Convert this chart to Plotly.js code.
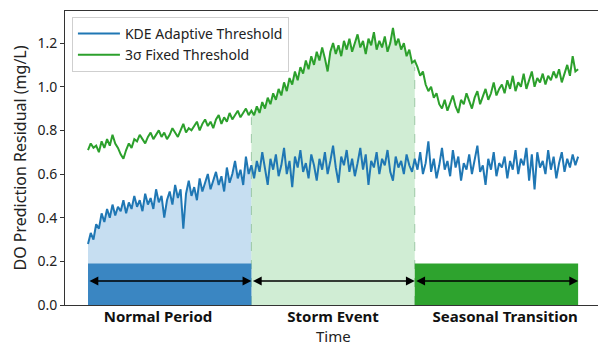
<!DOCTYPE html>
<html>
<head>
<meta charset="utf-8">
<script src="https://cdn.plot.ly/plotly-3.0.1.min.js"></script>
<style>html,body{margin:0;padding:0;background:#fff;}#chart{width:598px;height:345px;}</style>
</head>
<body>
<div id="chart"></div>
<script>
// Period names and boundaries (time index)
const periods = ['Normal Period', 'Storm Event', 'Seasonal Transition'];
const periodBounds = [0, 60, 120, 180];
const periodLabelAt = [25.7, 90, 153.2];

// KDE Adaptive Threshold (mg/L), one value per time step
const kdeNormal = [0.28,0.33,0.30,0.37,0.35,0.42,0.38,0.44,0.40,0.46,
  0.41,0.45,0.43,0.48,0.42,0.47,0.44,0.50,0.45,0.48,
  0.43,0.51,0.46,0.49,0.44,0.53,0.47,0.50,0.40,0.48,
  0.52,0.46,0.55,0.49,0.53,0.35,0.51,0.57,0.50,0.54,
  0.48,0.58,0.52,0.56,0.60,0.53,0.57,0.61,0.55,0.59,
  0.52,0.63,0.56,0.60,0.66,0.58,0.62,0.55,0.68,0.60,
  0.64];
const kdeStorm = [0.58,0.66,0.61,0.70,0.63,0.55,0.67,0.62,0.69,0.59,
  0.64,0.72,0.60,0.66,0.54,0.68,0.63,0.71,0.61,0.65,
  0.58,0.69,0.64,0.57,0.67,0.62,0.70,0.60,0.66,0.73,
  0.63,0.56,0.68,0.64,0.71,0.61,0.67,0.59,0.65,0.72,
  0.62,0.69,0.55,0.66,0.63,0.70,0.60,0.67,0.64,0.71,
  0.61,0.57,0.68,0.63,0.66,0.60,0.69,0.64,0.61,0.67];
const kdeSeasonal = [0.62,0.70,0.60,0.65,0.75,0.61,0.67,0.58,0.64,0.72,
  0.62,0.66,0.59,0.71,0.63,0.68,0.57,0.65,0.62,0.69,
  0.60,0.66,0.73,0.61,0.64,0.55,0.67,0.62,0.70,0.59,
  0.65,0.63,0.68,0.58,0.66,0.62,0.71,0.60,0.67,0.64,
  0.72,0.57,0.69,0.53,0.70,0.63,0.66,0.60,0.71,0.62,
  0.68,0.58,0.65,0.70,0.61,0.67,0.63,0.69,0.64,0.68];

// 3-sigma Fixed Threshold (mg/L)
const sigNormal = [0.71,0.74,0.72,0.73,0.70,0.75,0.72,0.76,0.73,0.78,
  0.74,0.72,0.69,0.67,0.71,0.74,0.72,0.76,0.75,0.78,
  0.76,0.74,0.77,0.79,0.76,0.78,0.80,0.77,0.79,0.76,
  0.78,0.81,0.79,0.77,0.80,0.83,0.79,0.81,0.80,0.82,
  0.84,0.80,0.83,0.85,0.82,0.84,0.81,0.85,0.87,0.83,
  0.86,0.84,0.88,0.85,0.87,0.89,0.86,0.88,0.90,0.87,
  0.89];
const sigStorm = [0.87,0.91,0.88,0.93,0.90,0.95,0.92,0.97,0.94,0.99,
  0.96,1.02,0.98,1.04,1.01,1.07,1.03,1.09,1.06,1.12,
  1.08,1.14,1.10,1.16,1.12,1.18,1.13,1.07,1.16,1.20,
  1.15,1.19,1.14,1.21,1.17,1.22,1.16,1.20,1.24,1.18,
  1.21,1.15,1.22,1.19,1.25,1.17,1.21,1.18,1.23,1.16,
  1.20,1.27,1.19,1.22,1.17,1.20,1.14,1.17,1.11,1.12];
const sigSeasonal = [1.09,1.05,1.07,1.01,0.98,1.00,0.95,0.97,0.92,0.90,
  0.94,0.89,0.93,0.96,0.91,0.88,0.94,0.92,0.97,0.93,
  0.90,0.95,0.98,0.92,0.96,0.99,0.94,0.97,1.02,0.96,
  0.99,1.01,0.97,1.03,0.99,1.05,0.98,1.02,1.00,1.06,
  0.99,1.03,1.07,1.00,1.04,1.02,1.06,1.01,1.05,1.03,
  1.07,1.04,1.08,1.02,1.06,1.10,1.05,1.14,1.07,1.08];

// Coloured band heights under each period (mg/L)
const bandTop = [0.19, 0, 0.19];
const arrowLevel = 0.11;

const kde = kdeNormal.concat(kdeStorm, kdeSeasonal);
const sig = sigNormal.concat(sigStorm, sigSeasonal);
const t = kde.map((_, i) => i);

const BLUE = '#1f77b4', GREEN = '#2ca02c';
const FONT = 'Noto Sans, DejaVu Sans, sans-serif';

function slice(arr, a, b) { return arr.slice(a, b + 1); }

const traces = [];
traces.push({x: slice(t, periodBounds[0], periodBounds[1]), y: slice(kde, periodBounds[0], periodBounds[1]),
  type: 'scatter', mode: 'none', fill: 'tozeroy', fillcolor: 'rgba(160,200,232,0.6)', showlegend: false, hoverinfo: 'skip'});
traces.push({x: slice(t, periodBounds[1], periodBounds[2]), y: slice(sig, periodBounds[1], periodBounds[2]),
  type: 'scatter', mode: 'none', fill: 'tozeroy', fillcolor: 'rgba(170,222,176,0.55)', showlegend: false, hoverinfo: 'skip'});
[1, 2].forEach(k => {
  const b = periodBounds[k];
  traces.push({x: [b, b], y: [0, sig[b] - 0.03], type: 'scatter', mode: 'lines',
    line: {color: 'rgba(140,190,150,0.8)', width: 1, dash: 'dash'}, showlegend: false, hoverinfo: 'skip'});
});
traces.push({x: t, y: kde, type: 'scatter', mode: 'lines', name: 'KDE Adaptive Threshold',
  line: {color: BLUE, width: 2}});
traces.push({x: t, y: sig, type: 'scatter', mode: 'lines', name: '3σ Fixed Threshold',
  line: {color: GREEN, width: 2}});

const bandColors = ['#3a86c2', null, '#2ea32e'];
const shapes = [];
bandTop.forEach((h, k) => {
  if (h > 0) shapes.push({type: 'rect', xref: 'x', yref: 'y', layer: 'above',
    x0: periodBounds[k], x1: periodBounds[k + 1], y0: 0, y1: h,
    fillcolor: bandColors[k], line: {width: 0}});
});

const annotations = [];
for (let k = 0; k < 3; k++) {
  annotations.push({x: periodBounds[k + 1], y: arrowLevel, ax: periodBounds[k], ay: arrowLevel,
    xref: 'x', yref: 'y', axref: 'x', ayref: 'y', text: '', showarrow: true,
    arrowhead: 2, startarrowhead: 2, arrowside: 'end+start', arrowsize: 1.1, arrowwidth: 1.6, arrowcolor: '#000'});
}
// x-axis title
annotations.push({x: 90, y: 0, xref: 'x', yref: 'paper', yanchor: 'middle', yshift: -31, showarrow: false,
  text: 'Time', font: {family: FONT, size: 15, color: '#222'}});

const layout = {
  width: 598, height: 345,
  margin: {l: 65, r: 0, t: 11, b: 40},
  paper_bgcolor: '#fff', plot_bgcolor: '#fff',
  font: {family: FONT, size: 14, color: '#222'},
  showlegend: true,
  legend: {x: 0.013, y: 0.98, xanchor: 'left', yanchor: 'top', bgcolor: 'rgba(255,255,255,0.9)',
    bordercolor: '#cfcfcf', borderwidth: 1, font: {family: FONT, size: 14, color: '#222'},
    tracegroupgap: 0, itemwidth: 42},
  xaxis: {range: [-8.45, 187.3], showgrid: false, zeroline: false, showline: true, mirror: true,
    linecolor: '#333', linewidth: 1, ticks: '', ticklabelstandoff: -2,
    tickvals: periodLabelAt,
    ticktext: periods.map(p => '<b>' + p + '</b>'),
    tickfont: {family: FONT, size: 15, color: '#111'}},
  yaxis: {range: [0, 1.347], showgrid: false, zeroline: false, showline: true, linecolor: '#333', linewidth: 1,
    ticks: 'outside', ticklen: 4, tickcolor: '#333', tickvals: [0, 0.2, 0.4, 0.6, 0.8, 1.0, 1.2],
    tickformat: '.1f', tickfont: {family: FONT, size: 14, color: '#222'},
    title: {text: 'DO Prediction Residual (mg/L)', standoff: 6, font: {family: FONT, size: 16, color: '#222'}}},
  shapes: shapes,
  annotations: annotations
};

Plotly.newPlot('chart', traces, layout, {displayModeBar: false, staticPlot: true});
</script>
</body>
</html>
